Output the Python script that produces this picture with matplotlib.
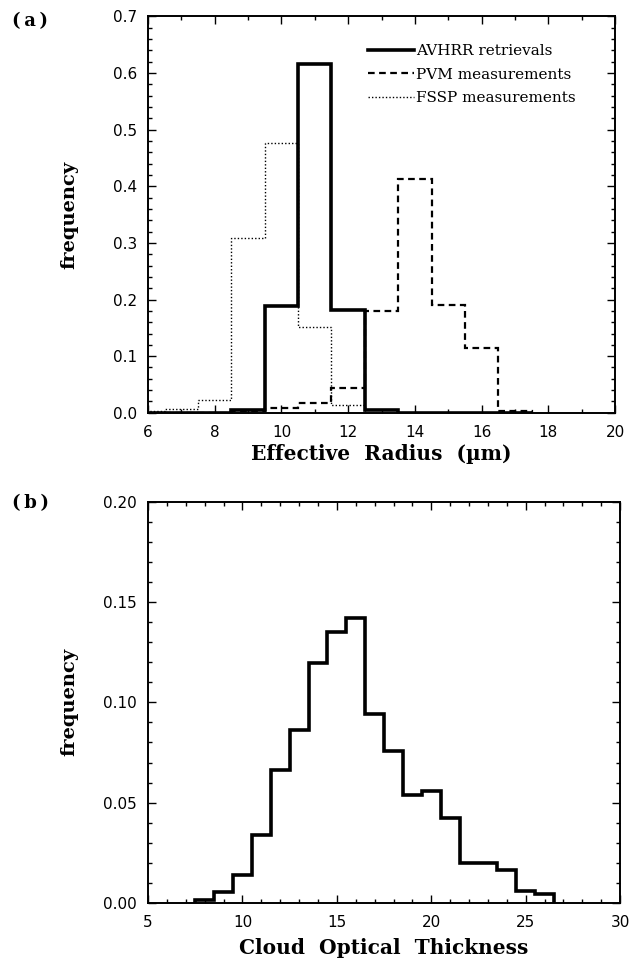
import numpy as np
import matplotlib
matplotlib.use("Agg")
import matplotlib.pyplot as plt
from matplotlib.ticker import MultipleLocator, FormatStrFormatter

# panel (a): effective radius histograms, 1 um bins
radius_centres = [6, 7, 8, 9, 10, 11, 12, 13, 14, 15, 16, 17]
avhrr_freq = [0.0, 0.0, 0.0, 0.005, 0.188, 0.615, 0.182, 0.005, 0.0, 0.0, 0.0, 0.0]
pvm_freq = [0.0, 0.0, 0.0, 0.003, 0.009, 0.017, 0.043, 0.179, 0.412, 0.19, 0.115, 0.004]
fssp_freq = [0.003, 0.006, 0.023, 0.308, 0.477, 0.151, 0.014, 0.0, 0.0, 0.0, 0.0, 0.0]

# panel (b): cloud optical thickness histogram
tau_centres = [8, 9, 10, 11, 12, 13, 14, 15, 16, 17, 18, 19, 20, 21, 22, 23, 24, 25, 26]
tau_freq = [0.0015, 0.0055, 0.014, 0.034, 0.0665, 0.086, 0.1195, 0.135, 0.142,
            0.094, 0.0755, 0.054, 0.056, 0.0425, 0.020, 0.020, 0.0165, 0.006, 0.0045]

serif = "DejaVu Serif"
sans = "DejaVu Sans"


def edges_of(centres):
    c = np.asarray(centres, dtype=float)
    return np.append(c - 0.5, c[-1] + 0.5)


def style_axes(ax):
    ax.tick_params(which="both", direction="in", top=True, right=True,
                   labelsize=11, width=1.0)
    ax.tick_params(which="major", length=6)
    ax.tick_params(which="minor", length=3)
    ax.tick_params(axis="x", which="major", pad=9)
    ax.tick_params(axis="y", which="major", pad=8)
    for lab in ax.get_xticklabels() + ax.get_yticklabels():
        lab.set_family(sans)
    for sp in ax.spines.values():
        sp.set_linewidth(1.4)


fig = plt.figure(figsize=(6.38, 9.6), dpi=100)

ax1 = fig.add_axes([0.232, 0.570, 0.732, 0.413])
r_edges = edges_of(radius_centres)
ax1.stairs(avhrr_freq, r_edges, color="black", lw=2.6, label="AVHRR retrievals")
ax1.stairs(pvm_freq, r_edges, color="black", lw=1.6, ls=(0, (3, 2)), label="PVM measurements")
ax1.stairs(fssp_freq, r_edges, color="black", lw=1.0, ls=(0, (1, 1.5)), label="FSSP measurements")
ax1.set_xlim(6, 20)
ax1.set_ylim(0, 0.7)
ax1.xaxis.set_major_locator(MultipleLocator(2))
ax1.xaxis.set_minor_locator(MultipleLocator(1))
ax1.yaxis.set_major_locator(MultipleLocator(0.1))
ax1.yaxis.set_minor_locator(MultipleLocator(0.02))
ax1.yaxis.set_major_formatter(FormatStrFormatter("%.1f"))
style_axes(ax1)
ax1.set_xlabel("Effective  Radius  (µm)", family=serif, fontweight="bold", fontsize=14.5)
ax1.xaxis.set_label_coords(0.5, -0.078)
ax1.set_ylabel("frequency", family=serif, fontweight="bold", fontsize=14)
ax1.yaxis.set_label_coords(-0.15, 0.5)
ax1.legend(loc="upper left", bbox_to_anchor=(0.471, 0.930), frameon=False,
           prop={"family": serif, "size": 11}, handlelength=3.0, handletextpad=0.15,
           borderaxespad=0, borderpad=0, labelspacing=0.62)
fig.text(0.019, 0.973, "(\u2009a\u2009)", family=serif, fontweight="bold", fontsize=13)

ax2 = fig.add_axes([0.232, 0.0594, 0.740, 0.418])
ax2.stairs(tau_freq, edges_of(tau_centres), color="black", lw=2.6)
ax2.set_xlim(5, 30)
ax2.set_ylim(0, 0.2)
ax2.xaxis.set_major_locator(MultipleLocator(5))
ax2.xaxis.set_minor_locator(MultipleLocator(1))
ax2.yaxis.set_major_locator(MultipleLocator(0.05))
ax2.yaxis.set_minor_locator(MultipleLocator(0.01))
ax2.yaxis.set_major_formatter(FormatStrFormatter("%.2f"))
style_axes(ax2)
ax2.set_xlabel("Cloud  Optical  Thickness", family=serif, fontweight="bold", fontsize=14.5)
ax2.xaxis.set_label_coords(0.5, -0.088)
ax2.set_ylabel("frequency", family=serif, fontweight="bold", fontsize=14)
ax2.yaxis.set_label_coords(-0.148, 0.5)
fig.text(0.019, 0.471, "(\u2009b\u2009)", family=serif, fontweight="bold", fontsize=13)

fig.savefig("out.png", dpi=100)
